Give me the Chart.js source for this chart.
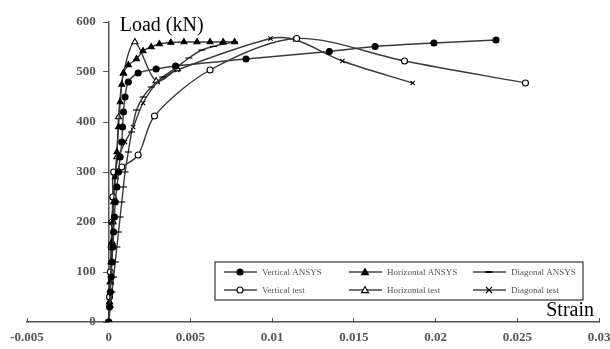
<!DOCTYPE html>
<html lang="en">
<head>
  <meta charset="UTF-8" />
  <title>Load - strain curves</title>
  <style>
    html, body { margin: 0; padding: 0; background: #fff; }
    #wrap { width: 610px; height: 349px; }
  </style>
</head>
<body>
  <div id="wrap"><canvas id="chart" width="610" height="349"></canvas></div>

  <script src="https://cdn.jsdelivr.net/npm/chart.js"></script>
  <script>
    // values (strain, load in kN)
    const vertAnsysStrain = [0, 0.00005, 0.0001, 0.00015, 0.0002, 0.00025, 0.0003, 0.00035, 0.0004, 0.0005, 0.0006, 0.0007, 0.0008, 0.00085, 0.0009, 0.001, 0.0012, 0.0018, 0.0029, 0.0041, 0.0084, 0.0135, 0.0163, 0.0199, 0.0237];
    const vertAnsysLoad   = [0, 30, 60, 90, 120, 150, 180, 210, 240, 270, 300, 330, 360, 390, 420, 450, 480, 498, 506, 512, 526, 541, 551, 558, 564];

    const horizAnsysStrain = [0, 0.00005, 0.0001, 0.00015, 0.0002, 0.00025, 0.0003, 0.0004, 0.0005, 0.0006, 0.0007, 0.0008, 0.0009, 0.0012, 0.0017, 0.0021, 0.0026, 0.0031, 0.0038, 0.0046, 0.0054, 0.0062, 0.007, 0.0077];
    const horizAnsysLoad   = [0, 40, 80, 120, 160, 200, 240, 290, 340, 390, 440, 475, 498, 514, 526, 542, 550, 556, 559, 560, 560, 560, 560, 560];

    const diagAnsysStrain = [0, 0.0001, 0.0002, 0.0003, 0.0004, 0.0005, 0.0006, 0.0007, 0.0008, 0.0009, 0.001, 0.0012, 0.0014, 0.0017, 0.0021, 0.0026, 0.0033, 0.0041, 0.0049, 0.0057, 0.0064, 0.007, 0.0077];
    const diagAnsysLoad   = [0, 30, 60, 90, 120, 150, 180, 210, 240, 270, 300, 340, 380, 424, 450, 470, 490, 508, 528, 544, 551, 556, 560];

    const vertTestStrain = [0, 0.00005, 0.0001, 0.00015, 0.0002, 0.00025, 0.0003, 0.0008, 0.0018, 0.0028, 0.0062, 0.0115, 0.0181, 0.0255];
    const vertTestLoad   = [0, 50, 100, 150, 200, 250, 300, 310, 334, 412, 504, 567, 522, 478];

    const horizTestStrain = [0, 0.00005, 0.0001, 0.00015, 0.0002, 0.00025, 0.0003, 0.0005, 0.0006, 0.0009, 0.0016, 0.0029, 0.0042];
    const horizTestLoad   = [0, 40, 80, 120, 160, 200, 250, 330, 410, 497, 560, 482, 506];

    const diagTestStrain = [0, 0.00005, 0.0001, 0.00015, 0.0002, 0.0003, 0.0004, 0.0006, 0.001, 0.0015, 0.0021, 0.003, 0.0042, 0.0099, 0.0114, 0.0143, 0.0186];
    const diagTestLoad   = [0, 50, 100, 150, 200, 250, 300, 330, 360, 390, 438, 480, 504, 567, 565, 522, 478];

    const strainTicks = [-0.005, 0, 0.005, 0.01, 0.015, 0.02, 0.025, 0.03];
    const loadTicks = [0, 100, 200, 300, 400, 500, 600];

    const seriesNames = ['Vertical ANSYS', 'Horizontal ANSYS', 'Diagonal ANSYS', 'Vertical test', 'Horizontal test', 'Diagonal test'];

    function pts(xs, ys) {
      return xs.map((v, i) => ({ x: v, y: ys[i] }));
    }

    const markers = [
      { style: 'circle', fill: '#000', r: 3 },
      { style: 'triangle', fill: '#000', r: 3.5 },
      { style: 'line', fill: '#000', r: 3.5 },
      { style: 'circle', fill: '#fff', r: 3 },
      { style: 'triangle', fill: '#fff', r: 3.5 },
      { style: 'crossRot', fill: '#000', r: 3 }
    ];

    const allData = [
      pts(vertAnsysStrain, vertAnsysLoad),
      pts(horizAnsysStrain, horizAnsysLoad),
      pts(diagAnsysStrain, diagAnsysLoad),
      pts(vertTestStrain, vertTestLoad),
      pts(horizTestStrain, horizTestLoad),
      pts(diagTestStrain, diagTestLoad)
    ];

    const datasets = allData.map((d, i) => ({
      label: seriesNames[i],
      data: d,
      showLine: true,
      borderColor: '#3a3a3a',
      borderWidth: 1.4,
      tension: 0.3,
      pointStyle: markers[i].style,
      pointRadius: markers[i].r,
      pointBackgroundColor: markers[i].fill,
      pointBorderColor: '#000',
      pointBorderWidth: 1.1
    }));

    // little marker painter for the legend box
    function drawMarker(ctx, m, cx, cy) {
      ctx.beginPath();
      if (m.style === 'circle') {
        ctx.arc(cx, cy, m.r, 0, Math.PI * 2);
      } else if (m.style === 'triangle') {
        ctx.moveTo(cx, cy - m.r);
        ctx.lineTo(cx + m.r, cy + m.r * 0.75);
        ctx.lineTo(cx - m.r, cy + m.r * 0.75);
        ctx.closePath();
      } else if (m.style === 'line') {
        ctx.moveTo(cx - m.r, cy);
        ctx.lineTo(cx + m.r, cy);
      } else {
        ctx.moveTo(cx - m.r, cy - m.r); ctx.lineTo(cx + m.r, cy + m.r);
        ctx.moveTo(cx + m.r, cy - m.r); ctx.lineTo(cx - m.r, cy + m.r);
      }
      if (m.style === 'circle' || m.style === 'triangle') {
        ctx.fillStyle = m.fill;
        ctx.fill();
      }
      ctx.strokeStyle = '#000';
      ctx.lineWidth = m.style === 'line' ? 2 : 1.1;
      ctx.stroke();
    }

    const extras = {
      id: 'extras',
      afterDraw(chart) {
        const ctx = chart.ctx;
        const xs = chart.scales.x;
        const ys = chart.scales.y;
        ctx.save();

        // axis titles
        ctx.fillStyle = '#000';
        ctx.font = '20px "Liberation Serif", serif';
        ctx.textAlign = 'left';
        ctx.textBaseline = 'alphabetic';
        ctx.fillText('Load (kN)', xs.getPixelForValue(0) + 11, ys.getPixelForValue(600) + 9);
        ctx.textAlign = 'right';
        ctx.fillText('Strain', xs.right - 5, ys.bottom - 6);

        // legend box
        const bx = 215, by = 262, bw = 368, bh = 38;
        ctx.fillStyle = '#fff';
        ctx.fillRect(bx, by, bw, bh);
        ctx.strokeStyle = '#333';
        ctx.lineWidth = 1.2;
        ctx.strokeRect(bx, by, bw, bh);

        const colX = [224, 349, 473];
        const rowY = [272, 290];
        ctx.font = '9px "Liberation Serif", serif';
        ctx.textAlign = 'left';
        ctx.textBaseline = 'middle';
        seriesNames.forEach((name, i) => {
          const cx = colX[i % 3];
          const cy = rowY[Math.floor(i / 3)];
          ctx.beginPath();
          ctx.moveTo(cx, cy);
          ctx.lineTo(cx + 33, cy);
          ctx.strokeStyle = '#444';
          ctx.lineWidth = 1.3;
          ctx.stroke();
          drawMarker(ctx, markers[i], cx + 16, cy);
          ctx.fillStyle = '#555';
          ctx.fillText(name, cx + 38, cy + 1);
        });
        ctx.restore();
      }
    };

    const axisFont = { family: '"Liberation Serif", serif', size: 13, weight: 'bold' };

    new Chart(document.getElementById('chart'), {
      type: 'scatter',
      data: { datasets: datasets },
      options: {
        responsive: false,
        animation: false,
        devicePixelRatio: 1,
        layout: { padding: { left: 27, right: 11, top: 22, bottom: 0 } },
        plugins: { legend: { display: false }, tooltip: { enabled: false } },
        scales: {
          x: {
            type: 'linear',
            min: -0.005,
            max: 0.03,
            afterBuildTicks: s => { s.ticks = strainTicks.map(v => ({ value: v })); },
            afterFit: s => { s.paddingLeft = 0; s.paddingRight = 0; s.height = 27; },
            ticks: {
              color: '#555',
              font: axisFont,
              padding: 12,
              maxRotation: 0,
              callback: v => String(Number(v.toFixed(3)))
            },
            grid: { drawOnChartArea: false, drawTicks: true, tickLength: -4, color: '#555' },
            border: { display: true, color: '#555', width: 1.5 }
          },
          y: {
            type: 'linear',
            min: 0,
            max: 600,
            position: { x: 0 },
            afterBuildTicks: s => { s.ticks = loadTicks.map(v => ({ value: v })); },
            afterFit: s => { s.width = 0; },
            // labels sit right-aligned on the axis line here, so pad them with trailing spaces
            ticks: { color: '#555', font: axisFont, callback: v => v + '    ' },
            grid: { drawOnChartArea: false, drawTicks: true, tickLength: 5, color: '#555' },
            border: { display: true, color: '#555', width: 1.5 }
          }
        }
      },
      plugins: [extras]
    });
  </script>
</body>
</html>
